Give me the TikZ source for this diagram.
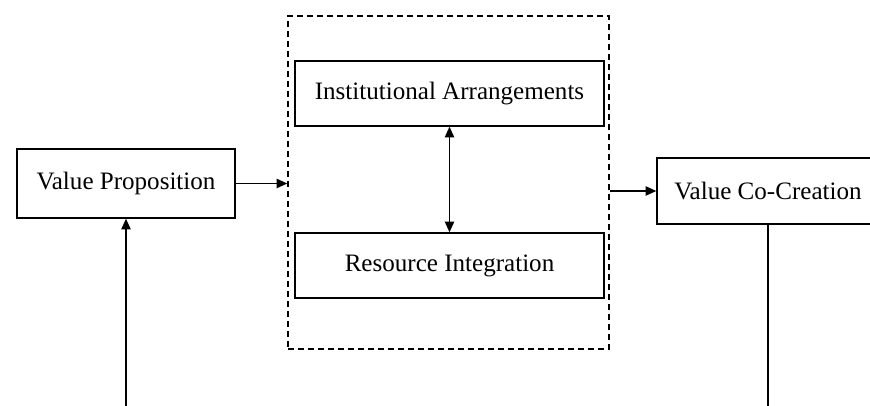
\documentclass[tikz,border=0pt]{standalone}
\usepackage{fontspec}
\setmainfont{Liberation Serif}
\usetikzlibrary{arrows.meta}
\begin{document}
\begin{tikzpicture}[x=0.75pt, y=-0.75pt, >={Triangle[length=8pt,width=7pt]},
    line width=1.1pt, font=\fontsize{18.8}{21}\selectfont,
    box/.style={draw, inner sep=0pt, align=center}]
        \path[use as bounding box, clip] (0,0) rectangle (870,406);

        \node[box, minimum width=163.5pt, minimum height=51.75pt] (vp) at (126,183.5) {Value Proposition};
        \node[draw, dashed, dash pattern=on 4.5pt off 3pt, inner sep=0pt,
              minimum width=240.75pt, minimum height=249.75pt] (grp) at (448.5,182.5) {};
        \node[box, minimum width=231.75pt, minimum height=48.75pt] (ia) at (449.5,93.5) {Institutional Arrangements};
        \node[box, minimum width=231.75pt, minimum height=48.75pt] (ri) at (449.5,265.5) {Resource Integration};
        \node[box, minimum width=166.5pt, minimum height=49.5pt] (vcc) at (768,191) {Value Co-Creation};

        \coordinate (vpin) at (126,410);
        \coordinate (vccout) at (768,410);

        \draw [->] (vp.east) -- (vp.east -| grp.west);
        \draw [<->] (ia.south) -- (ri.north);
        \draw [->] (vcc.west -| grp.east) -- (vcc.west);
        \draw [->] (vpin) -- (vp.south);
        \draw (vcc.south) -- (vccout);
    \end{tikzpicture}
\end{document}
